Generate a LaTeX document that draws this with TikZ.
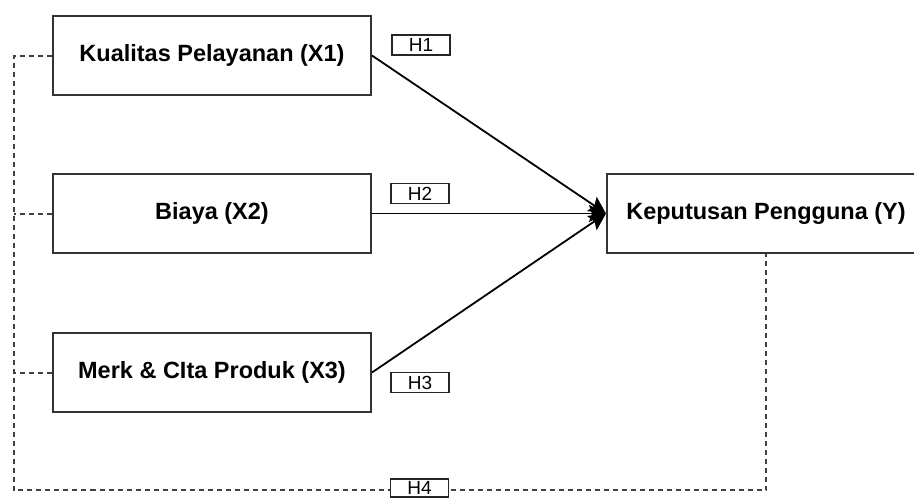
\documentclass[tikz,border=0pt]{standalone}
\usepackage{fontspec}
\setmainfont{Liberation Sans}
\usetikzlibrary{arrows.meta}
\begin{document}
\begin{tikzpicture}[x=1pt,y=-1pt,
  varbox/.style={draw=black!80,line width=2pt,fill=white,minimum width=318pt,minimum height=79pt,inner sep=0pt,
    font=\fontsize{23.5}{27}\selectfont\bfseries},
  hlabel/.style={draw=black!85,line width=1.8pt,fill=white,minimum width=58pt,minimum height=20pt,inner sep=0pt,
    font=\fontsize{19}{20}\selectfont},
  dashline/.style={draw=black!75,line width=2pt,dash pattern=on 5pt off 4pt},
  path/.style={draw=black,line width=1.8pt,-{Stealth[length=17pt,width=17pt,inset=3pt]}}]
\clip (0,0) rectangle (914,498);
\fill[white] (0,0) rectangle (914,498);
\node[varbox] (x1) at (212,55.5) {Kualitas Pelayanan (X1)};
\node[varbox] (x2) at (212,213.5) {Biaya (X2)};
\node[varbox] (x3) at (212,372.5) {Merk \& CIta Produk (X3)};
\node[varbox] (y) at (766,213.5) {Keputusan Pengguna (Y)};
\coordinate (c1) at (14,55.5);
\coordinate (c2) at (14,213.5);
\coordinate (c3) at (14,372.5);
\coordinate (cb) at (14,490);
\coordinate (cr) at (766,490);
\draw[dashline] (x1.west) -- (c1) -- (cb) -- (cr) -- (y.south);
\draw[dashline] (x2.west) -- (c2);
\draw[dashline] (x3.west) -- (c3);
\draw[path] (x1.east) -- (y.west);
\draw[path] (x2.east) -- (y.west);
\draw[path] (x3.east) -- (y.west);
\node[hlabel] (h1) at (421,45) {H1};
\node[hlabel] (h2) at (420,193.5) {H2};
\node[hlabel] (h3) at (420,382.5) {H3};
\node[hlabel,minimum height=18pt] (h4) at (419.5,488) {H4};
\end{tikzpicture}
\end{document}
